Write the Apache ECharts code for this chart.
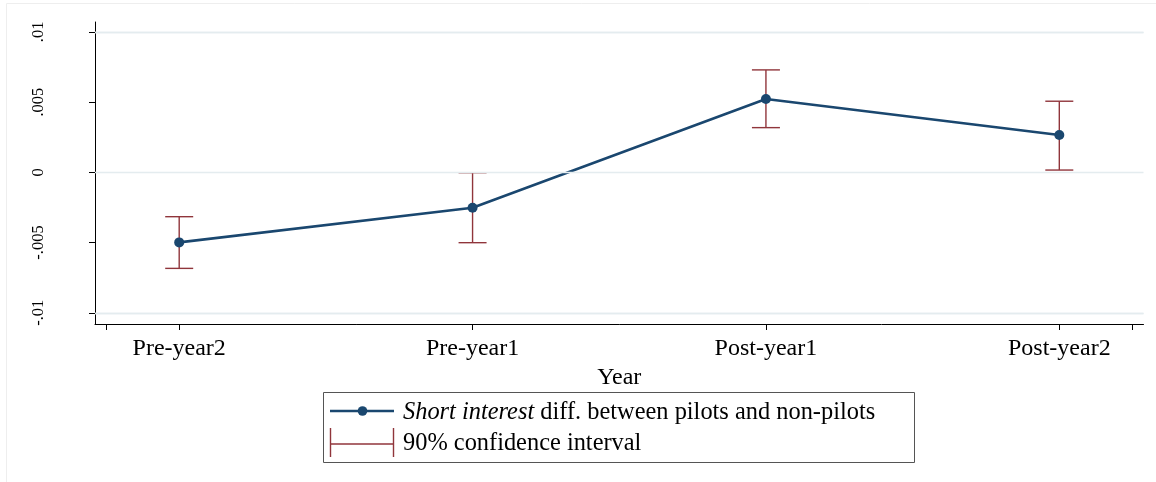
<!DOCTYPE html>
<html>
<head>
<meta charset="utf-8">
<script src="https://cdn.jsdelivr.net/npm/echarts@6/dist/echarts.min.js"></script>
<style>
html,body{margin:0;padding:0;background:#fff;}
#chart{width:1156px;height:482px;}
</style>
</head>
<body>
<div id="chart"></div>
<script>
const categories = ['Pre-year2', 'Pre-year1', 'Post-year1', 'Post-year2'];
const xPositions = [1, 2, 3, 4];
const estimates = [-0.00499, -0.00252, 0.00522, 0.00266];
const ciLow = [-0.00684, -0.00501, 0.00318, 0.00016];
const ciHigh = [-0.00316, -0.00003, 0.00729, 0.00506];
const yTicks = [-0.01, -0.005, 0, 0.005, 0.01];
const yTickLabels = ['-.01', '-.005', '0', '.005', '.01'];
const xTicks = [0.75, 1, 2, 3, 4, 4.25];
const legendLabels = ['Short interest', ' diff. between pilots and non-pilots', '90% confidence interval'];
const xTitle = 'Year';

const NAVY = '#1a476f';
const MAROON = '#90353b';
const GRID = '#e4ecef';
const FONT = '"Liberation Serif", "Times New Roman", serif';

const chart = echarts.init(document.getElementById('chart'), null, {renderer: 'canvas'});

const lineData = xPositions.map((x, i) => [x, estimates[i]]);
const ciData = xPositions.map((x, i) => [x, ciLow[i], ciHigh[i]]);

const option = {
  backgroundColor: '#ffffff',
  animation: false,
  textStyle: {fontFamily: FONT, color: '#000'},
  grid: {left: 95, right: 12.5, top: 22, bottom: 158, containLabel: false},
  xAxis: {
    type: 'value',
    min: 0.713,
    max: 4.287,
    name: xTitle,
    nameLocation: 'middle',
    nameGap: 36,
    nameTextStyle: {fontFamily: FONT, fontSize: 24, color: '#000'},
    axisLine: {show: true, onZero: false, lineStyle: {color: '#000', width: 1}},
    axisTick: {show: true, length: 6, lineStyle: {color: '#000', width: 1}, customValues: xTicks},
    axisLabel: {
      show: true, fontFamily: FONT, fontSize: 24, color: '#000', margin: 13,
      customValues: xPositions,
      formatter: v => {
        const i = xPositions.indexOf(Math.round(v));
        return i >= 0 ? categories[i] : '';
      }
    },
    splitLine: {show: false}
  },
  yAxis: {
    type: 'value',
    min: -0.0108,
    max: 0.0107,
    axisLine: {show: true, onZero: false, lineStyle: {color: '#000', width: 1}},
    axisTick: {show: true, length: 6, lineStyle: {color: '#000', width: 1}, customValues: yTicks},
    axisLabel: {
      show: true, fontFamily: FONT, fontSize: 16.5, color: '#000', rotate: 90, margin: 48,
      customValues: yTicks,
      formatter: v => {
        let best = 0;
        yTicks.forEach((t, i) => { if (Math.abs(t - v) < Math.abs(yTicks[best] - v)) best = i; });
        return yTickLabels[best];
      }
    },
    splitLine: {show: false}
  },
  series: [
    {
      name: 'grid',
      type: 'line',
      data: [],
      z: 0,
      silent: true,
      markLine: {
        silent: true,
        symbol: ['none', 'none'],
        label: {show: false},
        lineStyle: {color: GRID, width: 1.3, type: 'solid'},
        emphasis: {disabled: true},
        data: yTicks.map(v => ({yAxis: v}))
      }
    },
    {
      name: 'ci',
      type: 'custom',
      z: 2,
      silent: true,
      data: ciData,
      encode: {x: 0, y: [1, 2]},
      renderItem: (params, api) => {
        const x = api.value(0);
        const lo = api.coord([x, api.value(1)]);
        const hi = api.coord([x, api.value(2)]);
        const w = 14;
        const st = {stroke: MAROON, lineWidth: 1.4, fill: null};
        return {
          type: 'group',
          children: [
            {type: 'line', shape: {x1: lo[0], y1: lo[1], x2: hi[0], y2: hi[1]}, style: st},
            {type: 'line', shape: {x1: lo[0] - w, y1: lo[1], x2: lo[0] + w, y2: lo[1]}, style: st},
            {type: 'line', shape: {x1: hi[0] - w, y1: hi[1], x2: hi[0] + w, y2: hi[1]}, style: st}
          ]
        };
      }
    },
    {
      name: 'estimate',
      type: 'line',
      z: 3,
      data: lineData,
      symbol: 'circle',
      symbolSize: 10,
      showSymbol: true,
      itemStyle: {color: NAVY},
      lineStyle: {color: NAVY, width: 2.6},
      silent: true
    }
  ],
  graphic: [
    {type: 'rect', silent: true, z: -10, shape: {x: 6.5, y: 3.5, width: 1170, height: 520}, style: {fill: null, stroke: '#eeeeee', lineWidth: 1}},
    {type: 'rect', silent: true, shape: {x: 323.5, y: 392.5, width: 591, height: 70}, style: {fill: '#fff', stroke: '#555555', lineWidth: 1}},
    {type: 'line', silent: true, shape: {x1: 330, y1: 411, x2: 394, y2: 411}, style: {stroke: NAVY, lineWidth: 2.6}},
    {type: 'circle', silent: true, shape: {cx: 362.5, cy: 411, r: 4.8}, style: {fill: NAVY}},
    {type: 'line', silent: true, shape: {x1: 330.5, y1: 428, x2: 330.5, y2: 457}, style: {stroke: MAROON, lineWidth: 1.4}},
    {type: 'line', silent: true, shape: {x1: 393.5, y1: 428, x2: 393.5, y2: 457}, style: {stroke: MAROON, lineWidth: 1.4}},
    {type: 'line', silent: true, shape: {x1: 330.5, y1: 444, x2: 393.5, y2: 444}, style: {stroke: MAROON, lineWidth: 1.4}},
    {type: 'text', silent: true, x: 403, y: 413,
      style: {
        text: '{i|' + legendLabels[0] + '}{n|' + legendLabels[1] + '}',
        verticalAlign: 'middle', align: 'left',
        rich: {
          i: {fontFamily: FONT, fontSize: 24.4, fontStyle: 'italic', fill: '#000'},
          n: {fontFamily: FONT, fontSize: 24.4, fill: '#000'}
        }
      }
    },
    {type: 'text', silent: true, x: 403, y: 444,
      style: {text: legendLabels[2], font: '24.4px ' + FONT, fill: '#000', verticalAlign: 'middle', align: 'left'}
    }
  ]
};

chart.setOption(option);
</script>
</body>
</html>
